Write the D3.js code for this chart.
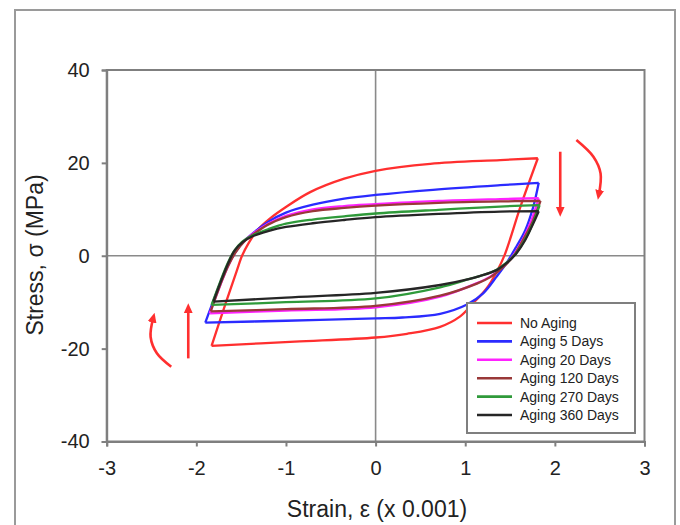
<!DOCTYPE html>
<html>
<head>
<meta charset="utf-8">
<script src="https://cdn.jsdelivr.net/npm/d3@7"></script>
<style>
  body { margin: 0; background: #fff; }
  svg { font-family: "Liberation Sans", Arial, sans-serif; }
</style>
</head>
<body>
<div class="loopChart"></div>
<script>
// axis ticks
const strainTicks = [-3, -2, -1, 0, 1, 2, 3];
const stressTicks = [-40, -20, 0, 20, 40];

// series names and colours (legend order)
const seriesNames = ["No Aging", "Aging 5 Days", "Aging 20 Days", "Aging 120 Days", "Aging 270 Days", "Aging 360 Days"];
const seriesColors = ["#ff2f2f", "#2b2bff", "#ff22ff", "#993838", "#2f9a3a", "#262626"];

// each loop: upper branch (bottom-left corner -> top-right corner), lower branch (back again)
// values are [strain x 0.001, stress MPa]
const noAgingUpper = [[-1.83,-19.4],[-1.66,-9.5],[-1.55,-3.3],[-1.49,0],[-1.42,2.6],[-1.32,5.5],[-1.18,8.0],[-1.0,10.5],[-0.73,13.7],[-0.35,16.6],[0,18.3],[0.61,19.8],[1.39,20.6],[1.81,21.0]];
const noAgingLower = [[1.81,21.0],[1.62,10.8],[1.44,0.2],[1.35,-3.5],[1.24,-7.0],[1.09,-10.2],[0.94,-13.1],[0.72,-15.3],[0.35,-16.8],[0,-17.6],[-0.9,-18.5],[-1.83,-19.4]];

const aging5Upper = [[-1.90,-14.4],[-1.76,-7.2],[-1.66,-2.4],[-1.57,0.6],[-1.48,2.9],[-1.36,5.0],[-1.2,7.3],[-1.0,9.3],[-0.7,11.0],[-0.35,12.3],[0,13.1],[0.64,14.2],[1.39,15.2],[1.82,15.7]];
const aging5Lower = [[1.82,15.7],[1.76,10.6],[1.67,5.5],[1.57,1.95],[1.46,-1.6],[1.35,-4.5],[1.2,-8.1],[1.02,-10.5],[0.72,-12.5],[0.3,-13.3],[0,-13.5],[-1.0,-14.0],[-1.90,-14.4]];

const aging20Upper = [[-1.85,-12.4],[-1.73,-6.2],[-1.64,-2.0],[-1.56,0.9],[-1.47,3.1],[-1.35,5.0],[-1.2,6.9],[-1.0,8.6],[-0.7,10.0],[-0.35,10.7],[0,11.1],[0.7,11.8],[1.39,12.2],[1.82,12.4]];
const aging20Lower = [[1.82,12.4],[1.74,7.7],[1.65,3.8],[1.54,0.2],[1.42,-2.4],[1.28,-4.5],[1.13,-5.9],[0.72,-8.8],[0,-11.1],[-1.0,-11.8],[-1.85,-12.4]];

const aging120Upper = [[-1.84,-12.0],[-1.73,-6.1],[-1.64,-2.0],[-1.56,0.8],[-1.47,3.0],[-1.35,4.8],[-1.2,6.7],[-1.0,8.3],[-0.7,9.6],[-0.35,10.3],[0,10.8],[0.7,11.4],[1.39,11.7],[1.84,11.8]];
const aging120Lower = [[1.84,11.8],[1.75,7.3],[1.65,3.6],[1.54,0],[1.42,-2.5],[1.28,-4.6],[1.13,-6.0],[0.72,-8.6],[0,-10.8],[-1.0,-11.5],[-1.84,-12.0]];

const aging270Upper = [[-1.83,-10.6],[-1.73,-5.4],[-1.65,-1.6],[-1.58,1.0],[-1.49,3.0],[-1.37,4.4],[-1.2,5.7],[-1.0,6.9],[-0.7,7.8],[-0.35,8.5],[0,9.1],[0.7,9.9],[1.39,10.6],[1.83,10.9]];
const aging270Lower = [[1.83,10.9],[1.76,7.2],[1.67,3.6],[1.57,0.6],[1.46,-1.5],[1.35,-3.0],[1.16,-4.4],[1.05,-5.0],[0.72,-6.8],[0,-9.2],[-1.0,-10.0],[-1.83,-10.6]];

const aging360Upper = [[-1.81,-9.9],[-1.72,-5.2],[-1.64,-1.4],[-1.57,1.2],[-1.48,3.0],[-1.36,4.3],[-1.2,5.3],[-1.0,6.2],[-0.7,7.0],[-0.35,7.7],[0,8.3],[0.7,9.0],[1.39,9.5],[1.82,9.6]];
const aging360Lower = [[1.82,9.6],[1.76,7.0],[1.67,3.4],[1.57,0.5],[1.46,-1.6],[1.35,-3.1],[1.16,-4.4],[1.05,-5.0],[0.72,-6.3],[0,-8.0],[-1.0,-9.0],[-1.81,-9.9]];

// annotation arrows (data coords)
const straightArrows = [[[2.06, 22.4], [2.06, 9.5]], [[-2.09, -22.1], [-2.09, -11.3]]];
const curvedArrows = [
    [[2.24, 24.9], [2.43, 21.3], [2.51, 17.7], [2.49, 13.1]],
    [[-2.28, -23.9], [-2.44, -21.0], [-2.51, -17.5], [-2.48, -13.3]]
];

const loops = [
    [noAgingUpper, noAgingLower],
    [aging5Upper, aging5Lower],
    [aging20Upper, aging20Lower],
    [aging120Upper, aging120Lower],
    [aging270Upper, aging270Lower],
    [aging360Upper, aging360Lower]
];

const W = 680, H = 525;
const svg = d3.select(".loopChart").append("svg")
    .attr("width", W).attr("height", H);

// outer chart frame
svg.append("rect")
    .attr("x", 15).attr("y", 10)
    .attr("width", 660).attr("height", 530)
    .attr("fill", "none").attr("stroke", "#9a9a9a").attr("stroke-width", 2);

const x = d3.scaleLinear().domain([-3, 3]).range([106.7, 644.5]);
const y = d3.scaleLinear().domain([-40, 40]).range([441.5, 70]);

// zero lines
svg.append("line")
    .attr("x1", x(0)).attr("x2", x(0)).attr("y1", y(40)).attr("y2", y(-40))
    .attr("stroke", "#8a8a8a").attr("stroke-width", 1.6);
svg.append("line")
    .attr("x1", x(-3)).attr("x2", x(3)).attr("y1", y(0)).attr("y2", y(0))
    .attr("stroke", "#8a8a8a").attr("stroke-width", 1.6);

// plot frame
svg.append("rect")
    .attr("x", x(-3)).attr("y", y(40))
    .attr("width", x(3) - x(-3)).attr("height", y(-40) - y(40))
    .attr("fill", "none").attr("stroke", "#7f7f7f").attr("stroke-width", 2);

// axes
const xAxis = svg.append("g")
    .attr("transform", `translate(0, ${y(-40)})`)
    .call(d3.axisBottom(x).tickValues(strainTicks).tickSize(5).tickPadding(14).tickFormat(d => String(d)));
const yAxis = svg.append("g")
    .attr("transform", `translate(${x(-3)}, 0)`)
    .call(d3.axisLeft(y).tickValues(stressTicks).tickSize(5).tickPadding(12).tickFormat(d => String(d)));

[xAxis, yAxis].forEach(a => {
    a.select(".domain").attr("stroke", "#7f7f7f").attr("stroke-width", 2);
    a.selectAll(".tick line").attr("stroke", "#7f7f7f").attr("stroke-width", 2);
    a.selectAll(".tick text")
        .attr("fill", "#222")
        .style("font-family", '"Liberation Sans", Arial, sans-serif')
        .style("font-size", "20px");
});

// axis titles
svg.append("text")
    .text("Strain, \u03b5 (x 0.001)")
    .attr("x", 377).attr("y", 517)
    .attr("text-anchor", "middle")
    .attr("fill", "#222").attr("font-size", "23px");

svg.append("text")
    .text("Stress, \u03c3 (MPa)")
    .attr("transform", "translate(43, 255) rotate(-90)")
    .attr("text-anchor", "middle")
    .attr("fill", "#222").attr("font-size", "23px");

// loops
const line = d3.line()
    .x(d => x(d[0]))
    .y(d => y(d[1]))
    .curve(d3.curveCatmullRom.alpha(0.5));

svg.append("g").selectAll("path")
    .data(loops)
    .join("path")
    .attr("d", d => line(d[0]) + line(d[1]))
    .attr("fill", "none")
    .attr("stroke", (d, i) => seriesColors[i])
    .attr("stroke-width", 2.3)
    .attr("stroke-linejoin", "miter");

// arrows
svg.append("defs").append("marker")
    .attr("id", "head")
    .attr("viewBox", "0 0 10 10")
    .attr("refX", 5).attr("refY", 5)
    .attr("markerWidth", 10).attr("markerHeight", 10)
    .attr("markerUnits", "userSpaceOnUse")
    .attr("orient", "auto")
    .append("path")
    .attr("d", "M0,0.5 L10,5 L0,9.5 Z")
    .attr("fill", "#ff2f2f");

svg.append("g").selectAll("path")
    .data(straightArrows.concat(curvedArrows))
    .join("path")
    .attr("d", d => line(d))
    .attr("fill", "none")
    .attr("stroke", "#ff2f2f")
    .attr("stroke-width", 2.6)
    .attr("marker-end", "url(#head)");

// legend
const legend = svg.append("g");
legend.append("rect")
    .attr("x", 467).attr("y", 303)
    .attr("width", 168).attr("height", 130)
    .attr("fill", "#fff").attr("stroke", "#7f7f7f").attr("stroke-width", 2);

const rows = legend.selectAll("g.row")
    .data(seriesNames)
    .join("g")
    .attr("class", "row")
    .attr("transform", (d, i) => `translate(0, ${323 + i * 18.4})`);

rows.append("line")
    .attr("x1", 477).attr("x2", 512)
    .attr("stroke", (d, i) => seriesColors[i])
    .attr("stroke-width", 2.6);

rows.append("text")
    .text(d => d)
    .attr("x", 520).attr("y", 5)
    .attr("fill", "#222")
    .attr("font-size", "14px");
</script>
</body>
</html>
